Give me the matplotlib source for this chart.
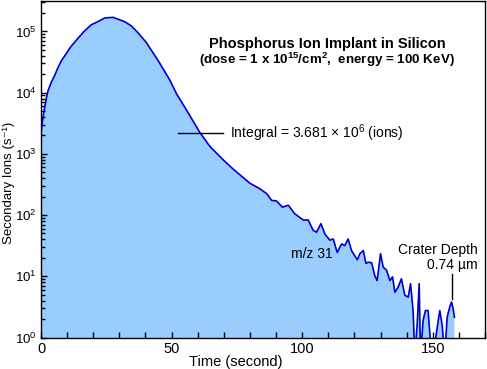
import matplotlib
matplotlib.use("Agg")
import matplotlib.pyplot as plt
from matplotlib.ticker import LogLocator, MultipleLocator, FixedLocator
import numpy as np

plt.rcParams['font.family'] = ['Liberation Sans', 'DejaVu Sans']
plt.rcParams['mathtext.fontset'] = 'custom'
plt.rcParams['mathtext.rm'] = 'Liberation Sans'
plt.rcParams['mathtext.it'] = 'Liberation Sans:italic'
plt.rcParams['mathtext.bf'] = 'Liberation Sans:bold'

# time (s) and log10(secondary ion counts)
time_s = [0.0, 0.6, 1.15, 1.66, 2.04, 2.68, 3.95, 5.23, 6.5, 7.78, 9.06, 10.3, 11.6,
          14.2, 16.7, 19.3, 21.8, 24.4, 27.6, 32.0, 34.6, 37.1, 40.3, 44.9, 49.4,
          51.9, 55.8, 60.8, 64.7, 69.8, 73.6, 77.5, 80.0, 83.8, 86.4, 88.3, 90.2,
          92.4, 94.7, 97.2, 100.4, 102.3, 104.2, 105.5, 107.2, 108.7, 110.6, 111.9,
          113.4, 115.1, 116.3, 117.6, 118.9, 121.1, 122.1, 123.4, 124.4, 125.3,
          126.6, 127.8, 128.7, 130.0, 131.0, 132.3, 133.6, 134.6, 135.5, 136.7,
          138.0, 139.3, 140.6, 141.5, 142.5, 143.1, 144.0, 144.8, 145.3, 146.3,
          147.2, 148.2, 148.9, 149.5, 150.8, 152.1, 152.7, 153.6, 154.6, 155.5,
          156.5, 157.2, 157.8, 158.3]
log_counts = [3.33, 3.55, 3.70, 3.82, 3.91, 4.03, 4.17, 4.28, 4.41, 4.52, 4.60, 4.68, 4.76,
              4.89, 5.01, 5.11, 5.16, 5.22, 5.23, 5.16, 5.09, 4.98, 4.82, 4.52, 4.20,
              3.98, 3.71, 3.35, 3.12, 2.90, 2.75, 2.61, 2.52, 2.43, 2.35, 2.24, 2.23,
              2.13, 2.16, 2.02, 1.92, 1.92, 1.75, 1.72, 1.86, 1.69, 1.59, 1.61,
              1.39, 1.53, 1.50, 1.61, 1.42, 1.27, 1.37, 1.42, 1.21, 1.23,
              1.22, 1.01, 0.93, 1.37, 1.15, 1.10, 0.93, 0.99, 0.74, 0.82,
              0.96, 0.69, 0.66, 0.88, 0.42, -0.3, 0.19, 0.88, -0.3, 0.28,
              0.44, 0.44, 0.06, -0.3, -0.1, 0.28, 0.44, 0.20, -0.3, 0.33,
              0.50, 0.58, 0.47, 0.33]
counts = 10.0 ** np.array(log_counts)

fig = plt.figure(figsize=(4.87, 3.69), dpi=100)
ax = fig.add_axes([41/487, 1-337.5/369, 444/487, 337/369])

fill_c = '#99CCFF'
line_c = '#0000CC'
ax.fill_between(time_s, counts, 1e-3, color=fill_c, linewidth=0)
ax.plot(time_s, counts, color=line_c, linewidth=1.2)

ax.set_yscale('log')
ax.set_xlim(0, 170)
ax.set_ylim(1, 3.2e5)

ax.xaxis.set_major_locator(FixedLocator([0, 50, 100, 150]))
ax.xaxis.set_minor_locator(MultipleLocator(10))
ax.yaxis.set_major_locator(LogLocator(base=10, numticks=10))
ax.yaxis.set_minor_locator(LogLocator(base=10, subs=np.arange(2, 10), numticks=20))
ax.tick_params(which='both', direction='in', top=False, right=False,
               width=1, color='black')
ax.tick_params(axis='x', labelsize=10.5)
ax.tick_params(axis='y', labelsize=9.5, pad=3)
ax.tick_params(which='major', length=4)
ax.tick_params(which='minor', length=3)
ax.tick_params(axis='x', which='minor', length=4)
for s in ax.spines.values():
    s.set_linewidth(1)

ax.set_xlabel('Time (second)', fontsize=10.5)
ax.xaxis.set_label_coords((235.5-41)/444, -0.052)
ax.set_ylabel('Secondary Ions (s\u207b\u00b9)', fontsize=9.5)
ax.yaxis.set_label_coords(-0.0585, 0.46)

ax.text(109.5, 6.3e4, 'Phosphorus Ion Implant in Silicon', ha='center', va='center',
        fontsize=10.5, fontweight='bold')
ax.text(109.5, 3.4e4, '(dose = 1 x 10$^{\\mathbf{15}}$/cm$^{\\mathbf{2}}$,  energy = 100 KeV)',
        ha='center', va='center', fontsize=9.6, fontweight='bold')

ax.plot([52.5, 69.5], [2170, 2170], color='black', linewidth=1)
ax.text(72.3, 2170, 'Integral = 3.681 $\\times$ 10$^{6}$ (ions)', ha='left', va='center',
        fontsize=10)

ax.text(95.9, 22.8, 'm/z 31', ha='left', va='center', fontsize=10)

ax.plot([157.2, 157.2], [11.0, 4.3], color='black', linewidth=1)
ax.text(167.2, 20, 'Crater Depth\n0.74 µm', ha='right', va='center', fontsize=10,
        multialignment='right', linespacing=1.1)

fig.savefig('out.png', dpi=100)
